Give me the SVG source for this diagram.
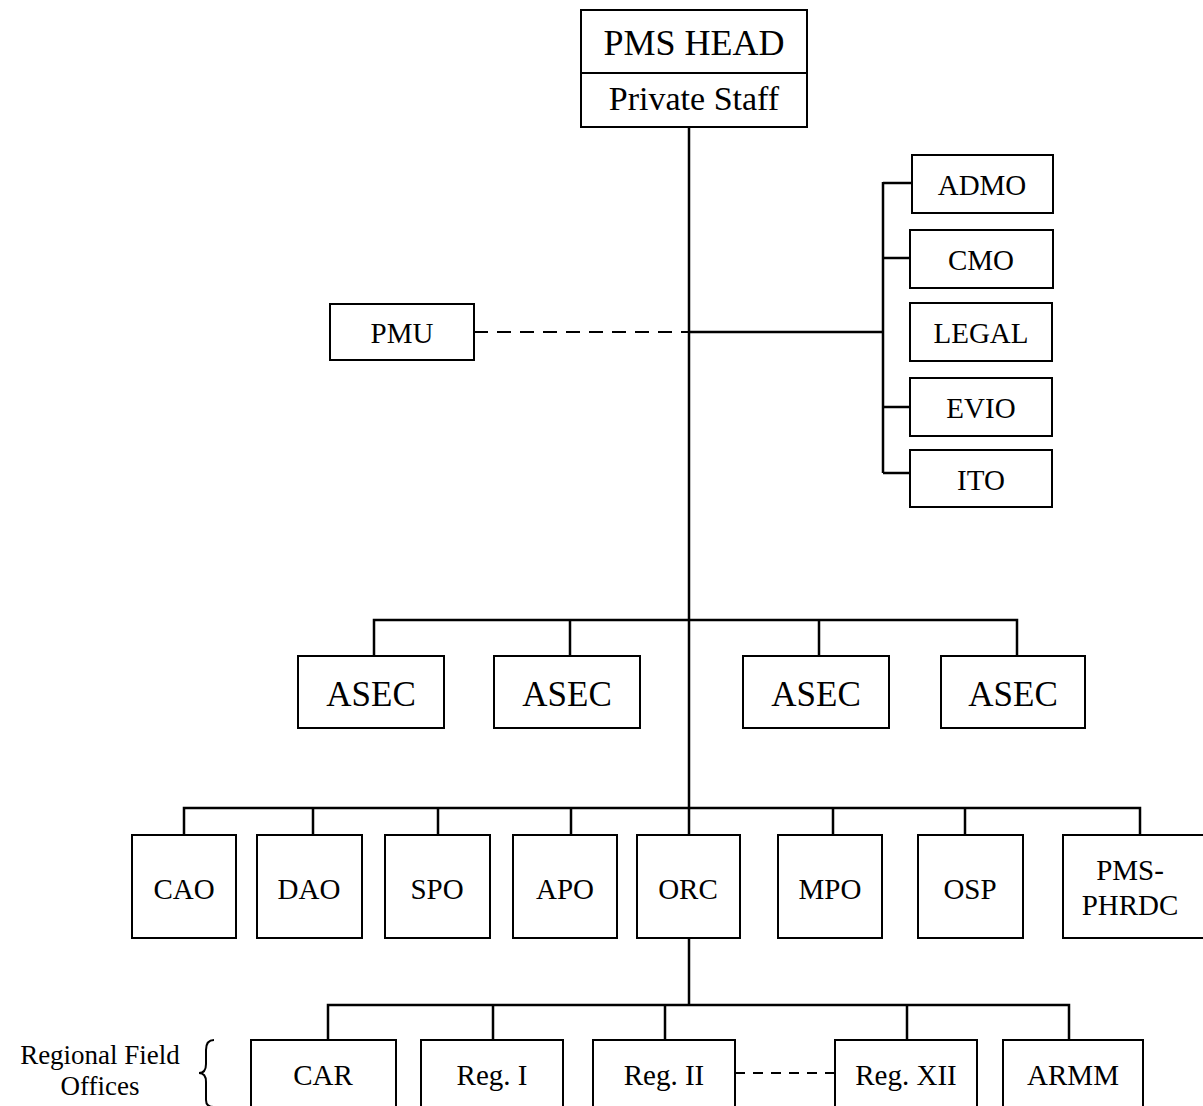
<svg xmlns="http://www.w3.org/2000/svg" width="1203" height="1106" viewBox="0 0 1203 1106">
<style>
.box{fill:#fff;stroke:#000;stroke-width:2}
.ln{fill:none;stroke:#000;stroke-width:2.5}
.dash{fill:none;stroke:#000;stroke-width:2;stroke-dasharray:14 9}
text{font-family:"Liberation Serif","Times New Roman",serif;fill:#000;text-anchor:middle}
.t28{font-size:29px}
.t34{font-size:35px}
.lbl{font-size:27px}
</style>
<rect width="1203" height="1106" fill="#fff"/>
<g id="connectors">
<line class="ln" x1="689" y1="127" x2="689" y2="835"/>
<line class="dash" x1="474" y1="332" x2="689" y2="332"/>
<line class="ln" x1="689" y1="332" x2="883" y2="332"/>
<line class="ln" x1="883" y1="182" x2="883" y2="473"/>
<line class="ln" x1="883" y1="183" x2="912" y2="183"/>
<line class="ln" x1="883" y1="258" x2="910" y2="258"/>
<line class="ln" x1="883" y1="407" x2="910" y2="407"/>
<line class="ln" x1="883" y1="473" x2="910" y2="473"/>
<path class="ln" d="M374 656V620H1017V656M570 620V656M819 620V656"/>
<path class="ln" d="M184 835V808H1140V835M313 808V835M438 808V835M571 808V835M833 808V835M965 808V835"/>
<line class="ln" x1="689" y1="938" x2="689" y2="1005"/>
<path class="ln" d="M328 1040V1005H1069V1040M493 1005V1040M665 1005V1040M907 1005V1040"/>
<line class="dash" x1="735" y1="1073" x2="835" y2="1073" style="stroke-dasharray:10 8"/>
</g>
<g id="pms-head">
<rect class="box" x="581" y="10" width="226" height="117"/>
<line x1="581" y1="73" x2="807" y2="73" stroke="#000" stroke-width="2"/>
<text x="694" y="55" style="font-size:36px">PMS HEAD</text>
<text x="694" y="110" style="font-size:34px">Private Staff</text>
</g>
<g id="pmu"><rect class="box" x="330" y="304" width="144" height="56"/><text class="t28" x="402" y="343">PMU</text></g>
<g id="admo"><rect class="box" x="912" y="155" width="141" height="58"/><text class="t28" x="982" y="195">ADMO</text></g>
<g id="cmo"><rect class="box" x="910" y="230" width="143" height="58"/><text class="t28" x="981" y="270">CMO</text></g>
<g id="legal"><rect class="box" x="910" y="303" width="142" height="58"/><text class="t28" x="981" y="343">LEGAL</text></g>
<g id="evio"><rect class="box" x="910" y="378" width="142" height="58"/><text class="t28" x="981" y="418">EVIO</text></g>
<g id="ito"><rect class="box" x="910" y="450" width="142" height="57"/><text class="t28" x="981" y="490">ITO</text></g>
<g id="asec1"><rect class="box" x="298" y="656" width="146" height="72"/><text class="t34" x="371" y="706">ASEC</text></g>
<g id="asec2"><rect class="box" x="494" y="656" width="146" height="72"/><text class="t34" x="567" y="706">ASEC</text></g>
<g id="asec3"><rect class="box" x="743" y="656" width="146" height="72"/><text class="t34" x="816" y="706">ASEC</text></g>
<g id="asec4"><rect class="box" x="941" y="656" width="144" height="72"/><text class="t34" x="1013" y="706">ASEC</text></g>
<g id="cao"><rect class="box" x="132" y="835" width="104" height="103"/><text class="t28" x="184" y="899">CAO</text></g>
<g id="dao"><rect class="box" x="257" y="835" width="105" height="103"/><text class="t28" x="309" y="899">DAO</text></g>
<g id="spo"><rect class="box" x="385" y="835" width="105" height="103"/><text class="t28" x="437" y="899">SPO</text></g>
<g id="apo"><rect class="box" x="513" y="835" width="104" height="103"/><text class="t28" x="565" y="899">APO</text></g>
<g id="orc"><rect class="box" x="637" y="835" width="103" height="103"/><text class="t28" x="688" y="899">ORC</text></g>
<g id="mpo"><rect class="box" x="778" y="835" width="104" height="103"/><text class="t28" x="830" y="899">MPO</text></g>
<g id="osp"><rect class="box" x="918" y="835" width="105" height="103"/><text class="t28" x="970" y="899">OSP</text></g>
<g id="pms-phrdc"><rect class="box" x="1063" y="835" width="150" height="103"/><text class="t28" x="1130" y="880">PMS-</text><text class="t28" x="1130" y="915">PHRDC</text></g>
<g id="car"><rect class="box" x="251" y="1040" width="145" height="80"/><text class="t28" x="323" y="1085">CAR</text></g>
<g id="reg1"><rect class="box" x="421" y="1040" width="142" height="80"/><text class="t28" x="492" y="1085">Reg. I</text></g>
<g id="reg2"><rect class="box" x="593" y="1040" width="142" height="80"/><text class="t28" x="664" y="1085">Reg. II</text></g>
<g id="reg12"><rect class="box" x="835" y="1040" width="142" height="80"/><text class="t28" x="906" y="1085">Reg. XII</text></g>
<g id="armm"><rect class="box" x="1003" y="1040" width="140" height="80"/><text class="t28" x="1073" y="1085">ARMM</text></g>
<g id="regional-label">
<text class="lbl" x="100" y="1064">Regional Field</text>
<text class="lbl" x="100" y="1095">Offices</text>
<path d="M214 1040Q206 1040 206 1050V1064Q206 1073 199 1073Q206 1073 206 1082V1100Q206 1107 214 1107" fill="none" stroke="#000" stroke-width="2"/>
</g>
</svg>
